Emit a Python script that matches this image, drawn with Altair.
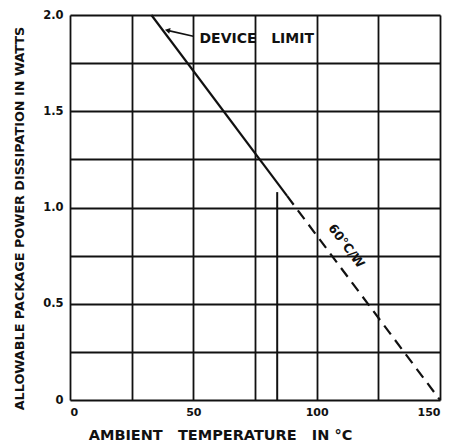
import altair as alt
import pandas as pd

# ---- data ----
x_ticks = [0, 25, 50, 75, 100, 125, 150]
y_ticks = [0, 0.25, 0.5, 0.75, 1.0, 1.25, 1.5, 1.75, 2.0]

solid_T = [33, 88]
solid_P = [2.0, 1.06]
dashed_T = [88, 150]
dashed_P = [1.06, 0.0]

marker_T = [84]
marker_P0 = [0.0]
marker_P1 = [1.08]

arrow_T = [50, 39.5]
arrow_P = [1.89, 1.92]

label_device = "DEVICE\u00a0\u00a0\u00a0LIMIT"
label_device_T = [52.5]
label_device_P = [1.875]

label_slope = "60°C/W"
label_slope_T = [112]
label_slope_P = [0.80]

x_title = "AMBIENT\u00a0\u00a0\u00a0TEMPERATURE\u00a0\u00a0\u00a0IN\u00a0°C"
y_title = "ALLOWABLE PACKAGE POWER DISSIPATION IN WATTS"

FONT = "DejaVu Sans"
INK = "#111111"

xs = alt.Scale(domain=[0, 150], nice=False, zero=False)
ys = alt.Scale(domain=[0, 2.0], nice=False, zero=False)

x_axis = alt.Axis(
    values=x_ticks, grid=True, gridColor=INK, gridWidth=1.8, gridOpacity=1,
    domain=False, ticks=False, labelFont=FONT, labelFontWeight="bold",
    labelFontSize=11, labelColor=INK, labelPadding=6,
    labelExpr="datum.value % 50 == 0 ? datum.label : ''",
    title=x_title, titleFont=FONT, titleFontWeight="bold",
    titleFontSize=14.5, titleColor=INK, titleX=150, titleY=35,
    titleBaseline="middle", titleAlign="center", titleAnchor="start",
)
y_axis = alt.Axis(
    values=y_ticks, grid=True, gridColor=INK, gridWidth=1.8, gridOpacity=1,
    domain=False, ticks=False, labelFont=FONT, labelFontWeight="bold",
    labelFontSize=11.5, labelColor=INK, labelPadding=7,
    labelExpr="datum.value == 0 ? '0' : (datum.value % 0.5 == 0 ? format(datum.value, '.1f') : '')",
    title=y_title, titleFont=FONT,
    titleFontWeight="bold", titleFontSize=12.8, titleColor=INK,
    titleX=-51, titleY=203, titleAngle=270, titleBaseline="middle",
    titleAlign="center", titleAnchor="start",
)

solid_df = pd.DataFrame({"T": solid_T, "P": solid_P})
dashed_df = pd.DataFrame({"T": dashed_T, "P": dashed_P})
marker_df = pd.DataFrame({"T": marker_T, "P0": marker_P0, "P1": marker_P1})
arrow_df = pd.DataFrame({"T": arrow_T, "P": arrow_P})
head_df = pd.DataFrame({"T": arrow_T[1:], "P": arrow_P[1:]})
dev_df = pd.DataFrame({"T": label_device_T, "P": label_device_P, "t": [label_device]})
slope_df = pd.DataFrame({"T": label_slope_T, "P": label_slope_P, "t": [label_slope]})

base_solid = alt.Chart(solid_df).mark_line(color=INK, strokeWidth=2.2).encode(
    x=alt.X("T:Q", scale=xs, axis=x_axis),
    y=alt.Y("P:Q", scale=ys, axis=y_axis),
)
dashed = alt.Chart(dashed_df).mark_line(color=INK, strokeWidth=2.2, strokeDash=[11, 7]).encode(
    x=alt.X("T:Q", scale=xs), y=alt.Y("P:Q", scale=ys)
)
marker = alt.Chart(marker_df).mark_rule(color=INK, strokeWidth=2).encode(
    x=alt.X("T:Q", scale=xs), y=alt.Y("P0:Q", scale=ys), y2="P1:Q"
)
arrow = alt.Chart(arrow_df).mark_line(color=INK, strokeWidth=1.6).encode(
    x=alt.X("T:Q", scale=xs), y=alt.Y("P:Q", scale=ys)
)
head = alt.Chart(head_df).mark_point(
    shape="triangle-left", filled=True, color=INK, size=35, angle=13, opacity=1
).encode(x=alt.X("T:Q", scale=xs), y=alt.Y("P:Q", scale=ys))
dev = alt.Chart(dev_df).mark_text(
    font=FONT, fontWeight="bold", fontSize=14, color=INK, align="left", baseline="middle"
).encode(x=alt.X("T:Q", scale=xs), y=alt.Y("P:Q", scale=ys), text="t:N")
slope = alt.Chart(slope_df).mark_text(
    font=FONT, fontWeight="bold", fontSize=12.5, color=INK, align="center",
    baseline="middle", angle=53
).encode(x=alt.X("T:Q", scale=xs), y=alt.Y("P:Q", scale=ys), text="t:N")

chart = alt.layer(base_solid, dashed, marker, arrow, head, dev, slope).properties(
    width=370, height=385,
    autosize=alt.AutoSizeParams(type="none"),
    padding={"left": 62, "top": 7, "right": 10, "bottom": 44},
).configure_view(stroke=INK, strokeWidth=2.2).configure(background="white")

chart.save("out.html", embed_options={"renderer": "svg", "actions": False})
